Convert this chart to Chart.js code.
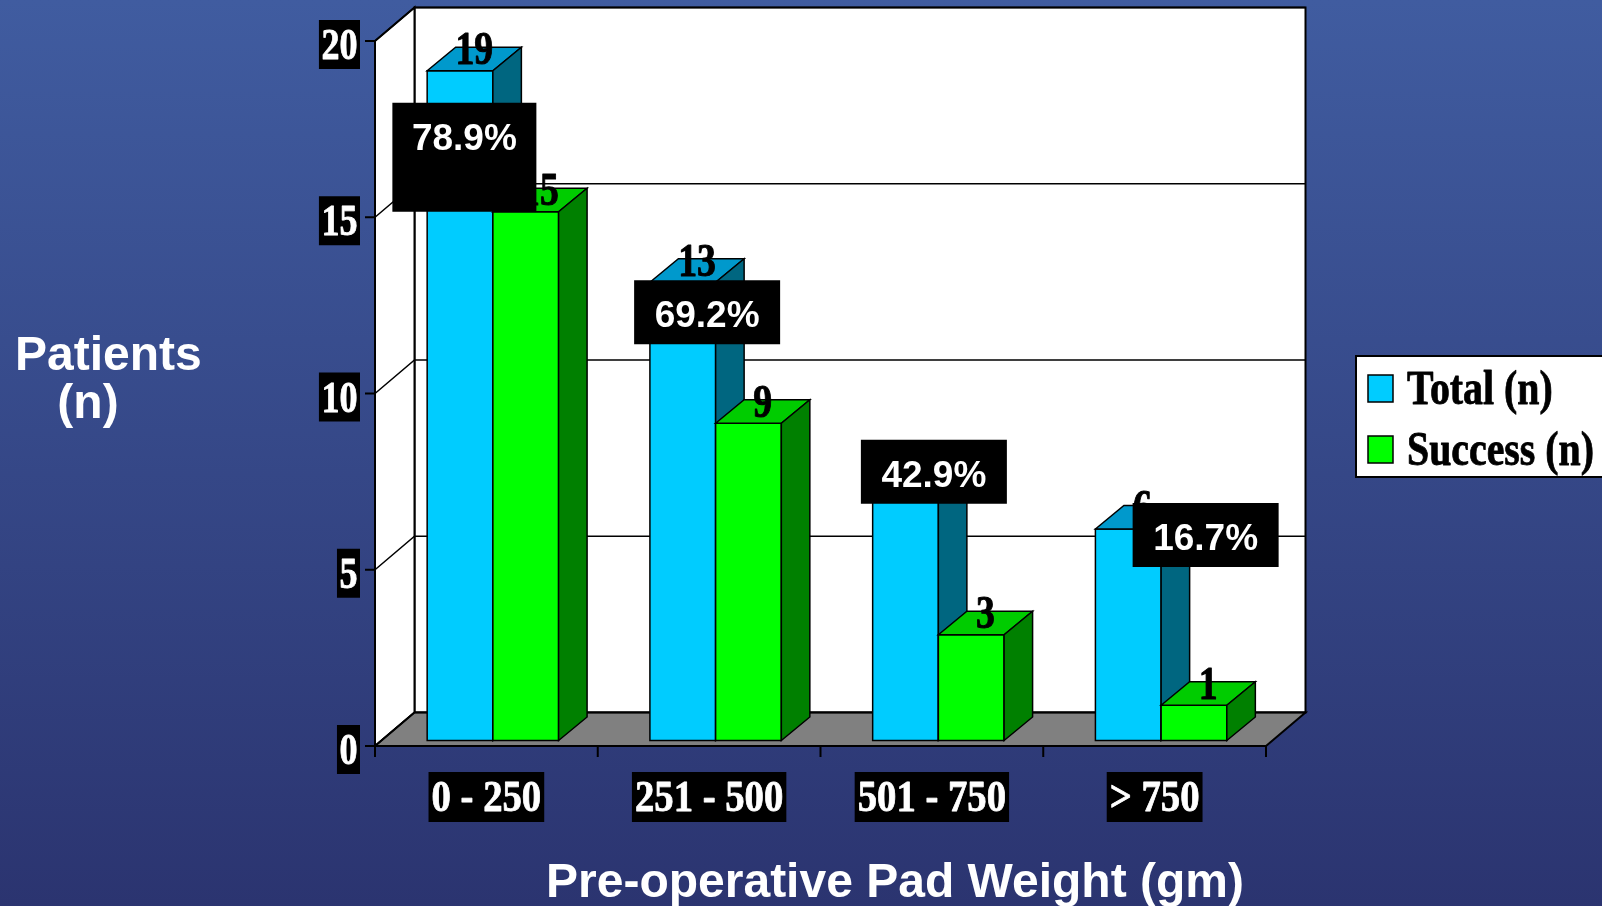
<!DOCTYPE html>
<html>
<head>
<meta charset="utf-8">
<title>Patients by pre-operative pad weight</title>
<script src="https://cdn.jsdelivr.net/npm/chart.js@4.4.1/dist/chart.umd.min.js"></script>
<style>
  html, body { margin: 0; padding: 0; background: #34427f; overflow: hidden; }
  canvas { display: block; }
</style>
</head>
<body>
<canvas id="chart" width="1602" height="906"></canvas>
<script>
"use strict";

// Data
const categories = ["0 - 250", "251 - 500", "501 - 750", "> 750"];
const totalCounts = [19, 13, 7, 6];
const successCounts = [15, 9, 3, 1];
const yTickValues = [0, 5, 10, 15, 20];
const seriesNames = ["Total (n)", "Success (n)"];

// Face colours for each series: front, top, side
const palettes = [
  { front: "#00ccff", top: "#0099cc", side: "#006680" },
  { front: "#00ff00", top: "#00cc00", side: "#008000" },
];

// 3D box geometry in pixels
const WALL_DEPTH = { x: 39.5, y: -33.5 };
const BAR_SHIFT = { x: 6.5, y: -5.5 };
const BAR_DEPTH = { x: 28.5, y: -23.5 };

const SERIF = "bold 44px 'Liberation Serif', 'Times New Roman', serif";
const SERIF_VALUE = "bold 46px 'Liberation Serif', 'Times New Roman', serif";
const SERIF_LEGEND = "bold 48px 'Liberation Serif', 'Times New Roman', serif";
const SANS_TITLE = "bold 48px 'Liberation Sans', Arial, sans-serif";
const SANS_PCT = "bold 37px 'Liberation Sans', Arial, sans-serif";
const SQUEEZE = 0.82;

// Percentage callouts: box offset from category centre / top of the total bar
const callouts = [
  { dx: -94, dy: 32, w: 144, h: 109 },
  { dx: -75, dy: -2, w: 146, h: 64 },
  { dx: -71, dy: -54, w: 146, h: 64 },
  { dx: -22, dy: -26, w: 146, h: 64 },
];

// heavy = extra outline in the fill colour, the serif labels are drawn chunky
function drawText(ctx, text, x, y, font, color, align, sx, heavy) {
  ctx.save();
  ctx.font = font;
  ctx.fillStyle = color;
  ctx.textAlign = align;
  ctx.textBaseline = "alphabetic";
  ctx.translate(x, y);
  ctx.scale(sx, 1);
  ctx.fillText(text, 0, 0);
  if (heavy) {
    ctx.strokeStyle = color;
    ctx.lineWidth = heavy;
    ctx.lineJoin = "round";
    ctx.strokeText(text, 0, 0);
  }
  ctx.restore();
}

function textWidth(ctx, text, font, sx) {
  ctx.save();
  ctx.font = font;
  const w = ctx.measureText(text).width * sx;
  ctx.restore();
  return w;
}

function poly(ctx, pts, fill) {
  ctx.beginPath();
  ctx.moveTo(pts[0][0], pts[0][1]);
  for (let i = 1; i < pts.length; i++) ctx.lineTo(pts[i][0], pts[i][1]);
  ctx.closePath();
  if (fill) {
    ctx.fillStyle = fill;
    ctx.fill();
  }
  ctx.stroke();
}

// Slide background
const backgroundPlugin = {
  id: "slideBackground",
  beforeDraw(chart) {
    const ctx = chart.ctx;
    const g = ctx.createLinearGradient(0, 0, 0, chart.height);
    g.addColorStop(0, "#405ca0");
    g.addColorStop(1, "#2b3470");
    ctx.save();
    ctx.fillStyle = g;
    ctx.fillRect(0, 0, chart.width, chart.height);
    ctx.restore();
  },
};

// Back wall, side wall, floor and gridlines
const wallsPlugin = {
  id: "walls",
  beforeDatasetsDraw(chart) {
    const ctx = chart.ctx;
    const { left, right, top, bottom } = chart.chartArea;
    const yScale = chart.scales.y;
    const bl = left + WALL_DEPTH.x;
    const br = right + WALL_DEPTH.x;
    const dy = WALL_DEPTH.y;
    ctx.save();
    ctx.strokeStyle = "#000";
    ctx.lineJoin = "miter";
    ctx.lineWidth = 2;
    poly(ctx, [[bl, top + dy], [br, top + dy], [br, bottom + dy], [bl, bottom + dy]], "#ffffff");
    poly(ctx, [[left, bottom], [left, top], [bl, top + dy], [bl, bottom + dy]], "#ffffff");
    poly(ctx, [[left, bottom], [bl, bottom + dy], [br, bottom + dy], [right, bottom]], "#808080");

    ctx.lineWidth = 1.5;
    yTickValues.forEach((v) => {
      const y = yScale.getPixelForValue(v);
      ctx.beginPath();
      ctx.moveTo(left, y);
      ctx.lineTo(bl, y + dy);
      ctx.lineTo(br, y + dy);
      ctx.stroke();
    });
    ctx.restore();
  },
};

// 3D boxes, value labels and percentage callouts
const barsPlugin = {
  id: "bars3d",
  afterDatasetsDraw(chart) {
    const ctx = chart.ctx;
    const labels = [];
    ctx.save();
    ctx.strokeStyle = "#000";
    ctx.lineWidth = 1.5;
    ctx.lineJoin = "miter";
    chart.data.datasets.forEach((ds, d) => {
      const pal = palettes[d];
      chart.getDatasetMeta(d).data.forEach((bar, i) => {
        const { x, y, base, width } = bar.getProps(["x", "y", "base", "width"], true);
        const x0 = x - width / 2 + BAR_SHIFT.x;
        const x1 = x + width / 2 + BAR_SHIFT.x;
        const yt = y + BAR_SHIFT.y;
        const yb = base + BAR_SHIFT.y;
        const bx = BAR_DEPTH.x, by = BAR_DEPTH.y;
        poly(ctx, [[x0, yt], [x1, yt], [x1, yb], [x0, yb]], pal.front);
        poly(ctx, [[x0, yt], [x0 + bx, yt + by], [x1 + bx, yt + by], [x1, yt]], pal.top);
        poly(ctx, [[x1, yt], [x1 + bx, yt + by], [x1 + bx, yb + by], [x1, yb]], pal.side);
        labels.push({ text: String(ds.data[i]), x: (x0 + x1) / 2 + bx / 2, y: yt + by / 2 + 5 });
      });
    });
    labels.forEach((l) => drawText(ctx, l.text, l.x, l.y, SERIF_VALUE, "#000", "center", SQUEEZE, 1));

    const xScale = chart.scales.x;
    const yScale = chart.scales.y;
    categories.forEach((c, i) => {
      const pct = ((successCounts[i] / totalCounts[i]) * 100).toFixed(1) + "%";
      const box = callouts[i];
      const left = xScale.getPixelForValue(i) + box.dx;
      const top = yScale.getPixelForValue(totalCounts[i]) + BAR_SHIFT.y + box.dy;
      ctx.fillStyle = "#000";
      ctx.fillRect(left, top, box.w, box.h);
      drawText(ctx, pct, left + box.w / 2, top + 47, SANS_PCT, "#fff", "center", 1);
    });
    ctx.restore();
  },
};

// Axes, tick labels, titles and legend
const axesPlugin = {
  id: "axesAndTitles",
  afterDraw(chart) {
    const ctx = chart.ctx;
    const { left, right, bottom } = chart.chartArea;
    const xScale = chart.scales.x;
    const yScale = chart.scales.y;
    ctx.save();
    ctx.strokeStyle = "#000";
    ctx.lineWidth = 2;

    // value axis ticks and boxed labels
    yTickValues.forEach((v) => {
      const y = yScale.getPixelForValue(v);
      ctx.beginPath();
      ctx.moveTo(left - 10, y);
      ctx.lineTo(left, y);
      ctx.stroke();
      const text = String(v);
      const w = textWidth(ctx, text, SERIF, SQUEEZE) + 5;
      const boxRight = left - 15;
      ctx.fillStyle = "#000";
      ctx.fillRect(boxRight - w, y - 21, w, 49);
      drawText(ctx, text, boxRight - w / 2, y + 18, SERIF, "#fff", "center", SQUEEZE, 0.8);
    });

    // category ticks and boxed labels
    const step = xScale.getPixelForValue(1) - xScale.getPixelForValue(0);
    ctx.beginPath();
    ctx.moveTo(left, bottom);
    ctx.lineTo(right, bottom);
    ctx.stroke();
    for (let i = 0; i <= categories.length; i++) {
      const x = xScale.getPixelForValue(0) - step / 2 + i * step;
      ctx.beginPath();
      ctx.moveTo(x, bottom);
      ctx.lineTo(x, bottom + 11);
      ctx.stroke();
    }
    categories.forEach((c, i) => {
      const cx = xScale.getPixelForValue(i);
      const w = textWidth(ctx, c, SERIF, 0.88) + 6;
      ctx.fillStyle = "#000";
      ctx.fillRect(cx - w / 2, bottom + 26, w, 50);
      drawText(ctx, c, cx, bottom + 65, SERIF, "#fff", "center", 0.88, 0.8);
    });

    // axis titles
    drawText(ctx, "Patients", 15, 370, SANS_TITLE, "#fff", "left", 1);
    drawText(ctx, "(n)", 88, 418, SANS_TITLE, "#fff", "center", 1);
    drawText(ctx, "Pre-operative Pad Weight (gm)", 895, 897, SANS_TITLE, "#fff", "center", 1);

    // legend
    ctx.fillStyle = "#fff";
    ctx.lineWidth = 2;
    ctx.fillRect(1356, 356, 260, 121);
    ctx.strokeRect(1356, 356, 260, 121);
    const rows = [375, 436];
    seriesNames.forEach((name, d) => {
      ctx.fillStyle = palettes[d].front;
      ctx.lineWidth = 1.5;
      ctx.fillRect(1368, rows[d], 25, 27);
      ctx.strokeRect(1368, rows[d], 25, 27);
      drawText(ctx, name, 1407, rows[d] + 29, SERIF_LEGEND, "#000", "left", 0.83, 0.8);
    });
    ctx.restore();
  },
};

new Chart(document.getElementById("chart"), {
  type: "bar",
  data: {
    labels: categories,
    datasets: [
      { label: seriesNames[0], data: totalCounts, backgroundColor: "rgba(0,0,0,0)", borderWidth: 0 },
      { label: seriesNames[1], data: successCounts, backgroundColor: "rgba(0,0,0,0)", borderWidth: 0 },
    ],
  },
  options: {
    responsive: false,
    animation: false,
    devicePixelRatio: 1,
    layout: { padding: { left: 375, right: 336, top: 41, bottom: 160 } },
    datasets: { bar: { categoryPercentage: 0.59, barPercentage: 1.0 } },
    scales: {
      x: { display: false, offset: true },
      y: { display: false, min: 0, max: 20 },
    },
    plugins: {
      legend: { display: false },
      tooltip: { enabled: false },
    },
  },
  plugins: [backgroundPlugin, wallsPlugin, barsPlugin, axesPlugin],
});
</script>
</body>
</html>
